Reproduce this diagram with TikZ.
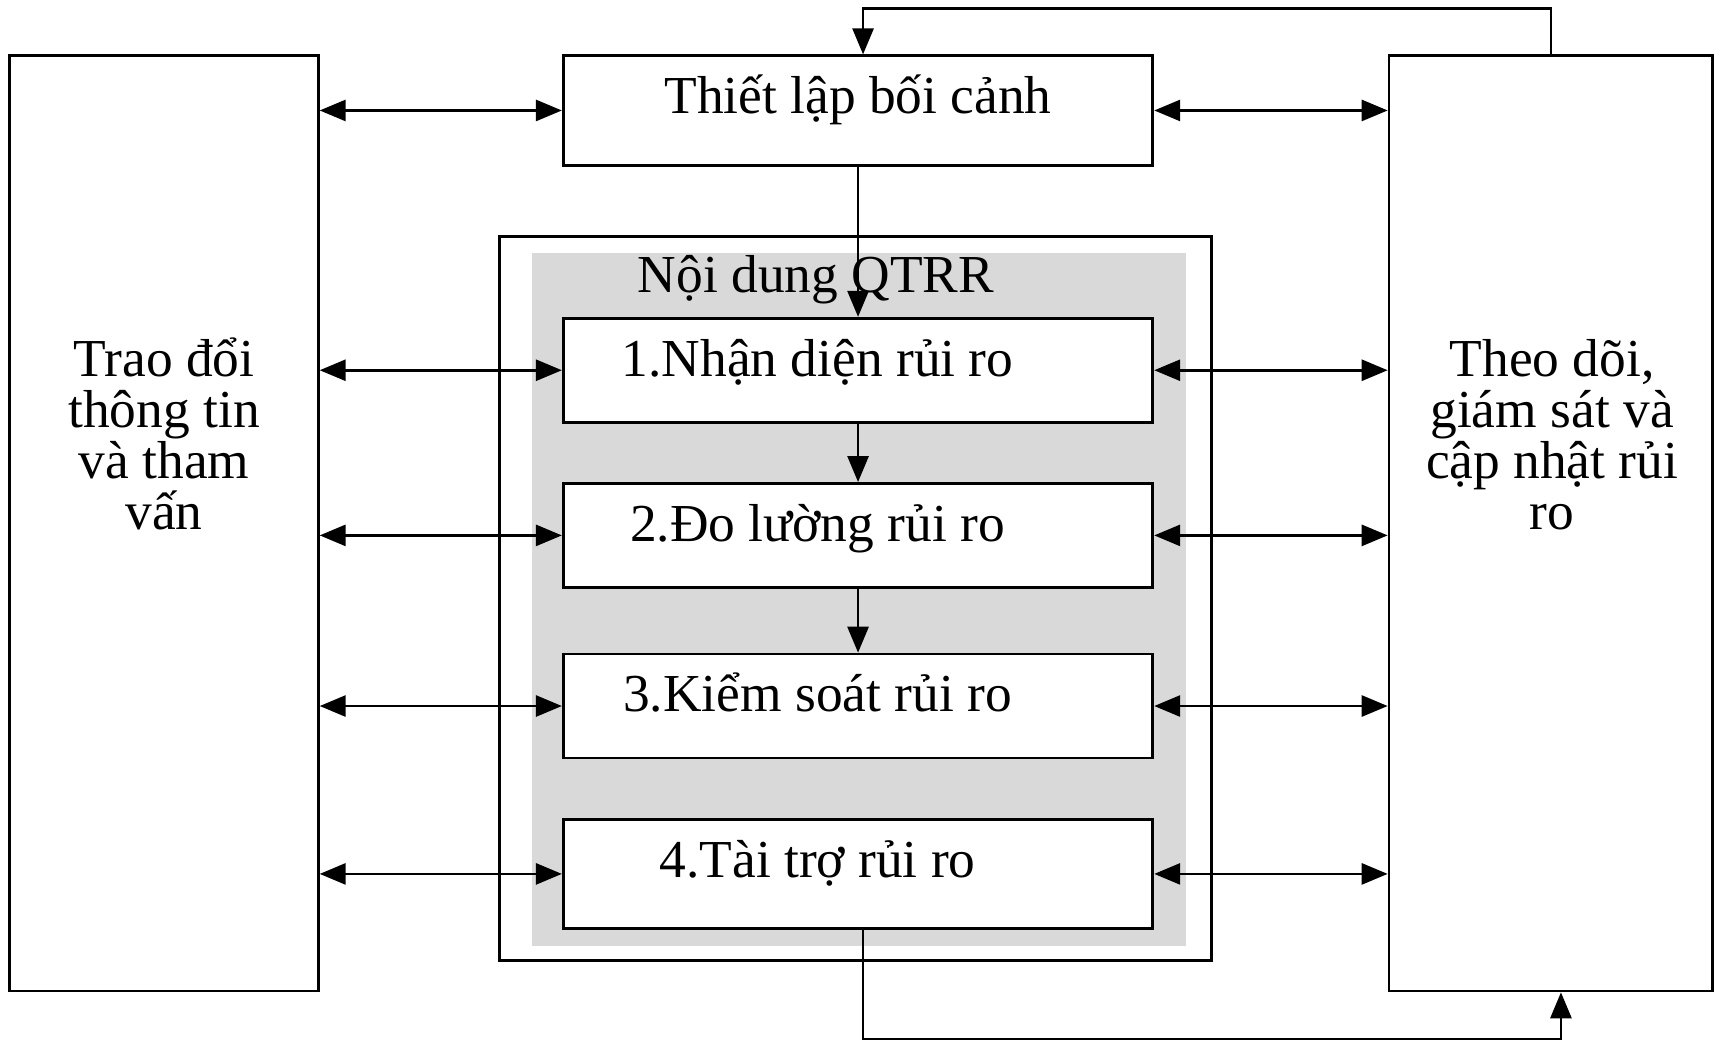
\documentclass[tikz,border=0pt]{standalone}
\usepackage{fontspec}
\setmainfont{Liberation Serif}
\usetikzlibrary{arrows.meta,calc}
\newlength{\px}\setlength{\px}{0.1094mm}
\newcommand{\diagfont}{\fontsize{15.2}{14.6}\selectfont}
\newcommand{\sidefont}{\diagfont\lineskiplimit=-20pt\relax}
\definecolor{panelgray}{HTML}{D9D9D9}
\tikzset{
  box/.style={draw, fill=white, line width=0.8pt, inner sep=0pt, minimum width=539*\px, font=\diagfont, text height=10pt},
  tallbox/.style={box, minimum height=100*\px, text depth=8.1pt},
  stepbox/.style={box, minimum height=95*\px, text depth=6.6pt},
  sidebox/.style={draw, line width=0.8pt, minimum height=855*\px},
  sidetext/.style={align=center, inner sep=0pt, anchor=north, font=\sidefont},
  link/.style={{Triangle[length=2.6mm,width=2.1mm]}-{Triangle[length=2.6mm,width=2.1mm]}, line width=0.8pt},
  flow/.style={-{Triangle[length=2.6mm,width=2.1mm]}, line width=0.8pt}
}
\begin{document}
\begin{tikzpicture}[x=0.1094mm, y=-0.1094mm]
\useasboundingbox (0,0) rectangle (1568,953);
\def\midx{784.5}
% frame round the content
\draw[line width=0.8pt] (457,216) rectangle (1108,878);
\fill[panelgray] (486,231) rectangle (1084,865);
\node[anchor=base, inner sep=0pt, font=\diagfont] (title) at (746,267) {Nội dung QTRR};

% boxes
\node[tallbox] (ctx) at (\midx,101) {Thiết lập bối cảnh};
\node[stepbox] (s1) at (\midx,338.5) {1.Nhận diện rủi ro\hspace*{74\px}};
\node[stepbox] (s2) at (\midx,489.5) {2.Đo lường rủi ro\hspace*{74\px}};
\node[stepbox] (s3) at (\midx,645.5) {3.Kiểm soát rủi ro\hspace*{74\px}};
\node[tallbox] (s4) at (\midx,799) {4.Tài trợ rủi ro\hspace*{74\px}};
\node[sidebox, minimum width=282*\px] (com) at (150,478.5) {};
\node[sidebox, minimum width=296*\px] (mon) at (1418,478.5) {};
\node[sidetext] (comtext) at (150,295) {\rule{0pt}{15pt}Trao đổi\\thông tin\\và tham\\vấn};
\node[sidetext] (montext) at (1419,295) {\rule{0pt}{15pt}Theo dõi,\\giám sát và\\cập nhật rủi\\ro};

% edges
\draw[flow] (ctx.south) -- (s1.north);
\draw[flow] (s1.south) -- (s2.north);
\draw[flow] (s2.south) -- (s3.north);
\draw[flow] ([xshift=0.5mm]s4.south) -- ([xshift=0.5mm]s4.south |- 0,950) -| ([xshift=1mm]mon.south);
\draw[flow] (mon.north) -- (mon.north |- 0,8) -| ([xshift=0.5mm]ctx.north);
\foreach \b in {ctx,s1,s2,s3,s4} {
  \draw[link] (\b.west -| com.east) -- (\b.west);
  \draw[link] (\b.east) -- (\b.east -| mon.west);
}
\end{tikzpicture}
\end{document}
